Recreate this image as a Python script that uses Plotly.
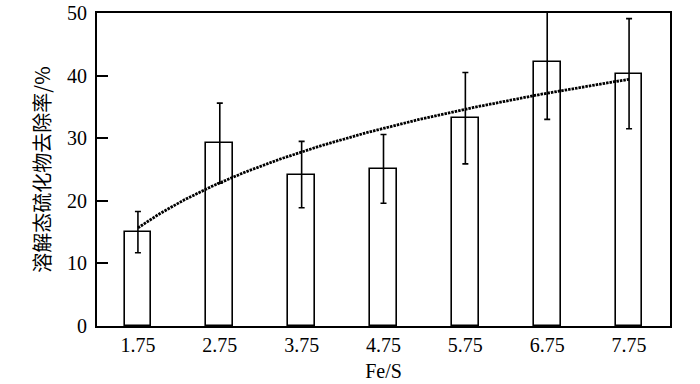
import numpy as np
import plotly.graph_objects as go

fe_s = [1.75, 2.75, 3.75, 4.75, 5.75, 6.75, 7.75]
tick_labels = ["1.75", "2.75", "3.75", "4.75", "5.75", "6.75", "7.75"]
removal = [15.0, 29.2, 24.2, 25.1, 33.2, 42.2, 40.3]
error = [3.3, 6.4, 5.3, 5.5, 7.3, 9.2, 8.8]

# logarithmic trendline fitted to the bar values
a, b = np.polyfit(np.log(fe_s), removal, 1)
trend_x = np.linspace(fe_s[0], fe_s[-1], 200)
trend_y = a * np.log(trend_x) + b

fig = go.Figure()
fig.add_trace(go.Bar(
    x=fe_s, y=removal, width=0.325,
    marker=dict(color="white", line=dict(color="black", width=1.6)),
    error_y=dict(type="data", array=error, visible=True,
                 color="black", thickness=1.6, width=3),
    showlegend=False,
))
fig.add_trace(go.Scatter(
    x=trend_x, y=trend_y, mode="lines",
    line=dict(color="black", width=2.8, dash="2.5px,1px"),
    showlegend=False,
))

serif = "Liberation Serif, Times New Roman, serif"
fig.update_layout(
    width=700, height=384,
    margin=dict(l=97, r=30, t=13, b=58, autoexpand=False),
    paper_bgcolor="white", plot_bgcolor="white",
    font=dict(family=serif, size=20, color="black"),
    xaxis=dict(
        range=[1.25, 8.25], tickvals=fe_s, ticktext=tick_labels,
        showgrid=False, zeroline=False, ticks="", automargin=False,
        showline=True, linecolor="black", linewidth=2, mirror=True,
        title=dict(text="Fe/S", font=dict(family=serif, size=20), standoff=9),
        tickfont=dict(family=serif, size=20),
    ),
    yaxis=dict(
        range=[0, 50], tickvals=[0, 10, 20, 30, 40, 50], automargin=False,
        showgrid=False, zeroline=False,
        ticks="inside", ticklen=11, tickwidth=1.6, tickcolor="black",
        ticklabelstandoff=4,
        showline=True, linecolor="black", linewidth=2, mirror=True,
        tickfont=dict(family=serif, size=20),
        title=dict(text="溶解态硫化物去除率/%",
                   font=dict(family="Noto Sans CJK SC", size=20), standoff=11),
    ),
    bargap=0,
)

fig.write_html("out.html", config={"displayModeBar": False},
               post_script="document.body.style.margin='0';")
